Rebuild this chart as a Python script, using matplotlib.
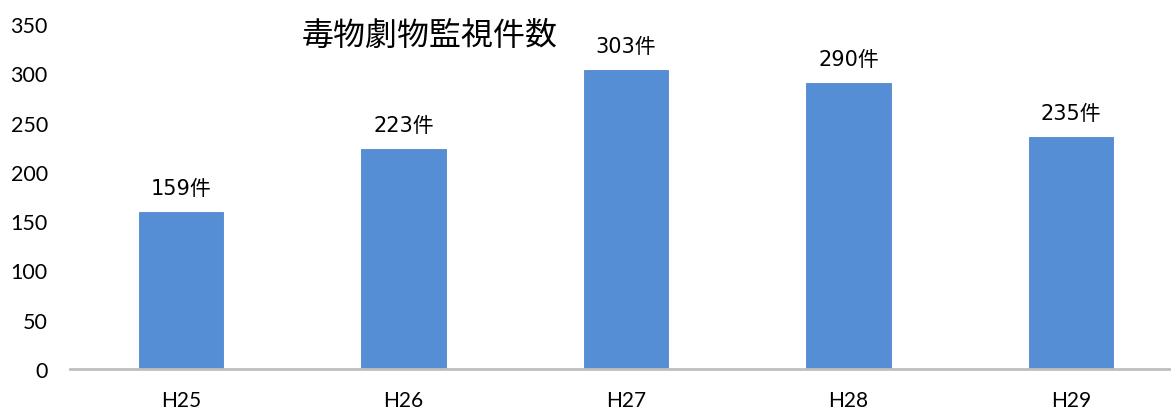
import matplotlib
matplotlib.use("Agg")
import matplotlib.pyplot as plt

categories = ["H25", "H26", "H27", "H28", "H29"]
values = [159, 223, 303, 290, 235]
value_labels = ["159件", "223件", "303件", "290件", "235件"]
yticks = [0, 50, 100, 150, 200, 250, 300, 350]
title = "毒物劇物監視件数"

plt.rcParams['font.family'] = ['Lato', 'Noto Sans CJK JP', 'DejaVu Sans']

fig = plt.figure(figsize=(11.71, 4.10), dpi=100)
ax = fig.add_axes([70/1171, 40/410, (1171-70)/1171, (370-25)/410])

x = list(range(len(categories)))
ax.bar(x, values, width=0.38, color="#558ED5", edgecolor="#5585c8", linewidth=0.6, zorder=2)

ax.set_xlim(-0.5, 4.45)
ax.set_ylim(0, 350)
ax.set_yticks(yticks)
ax.set_yticklabels([str(t) for t in yticks], fontsize=15.5)
ax.set_xticks(x)
ax.set_xticklabels(categories, fontsize=15)
ax.tick_params(axis='both', length=0)
ax.tick_params(axis='y', pad=16)
ax.tick_params(axis='x', pad=15)

for s in ['top', 'right', 'left']:
    ax.spines[s].set_visible(False)
ax.spines['bottom'].set_color("#BFBFBF")
ax.spines['bottom'].set_linewidth(2)
ax.spines['bottom'].set_zorder(3)

for xi, v, lab in zip(x, values, value_labels):
    ax.annotate(lab, (xi, v), xytext=(0, 10), textcoords="offset points",
                ha="center", va="bottom", fontsize=15,
                family=['DejaVu Sans', 'Noto Sans CJK JP'])

fig.text(430/1171, 1 - 36/410, title, ha="center", va="center", fontsize=23,
         family=['Noto Sans CJK JP', 'DejaVu Sans'])

fig.savefig("out.png", dpi=100, facecolor="white")
